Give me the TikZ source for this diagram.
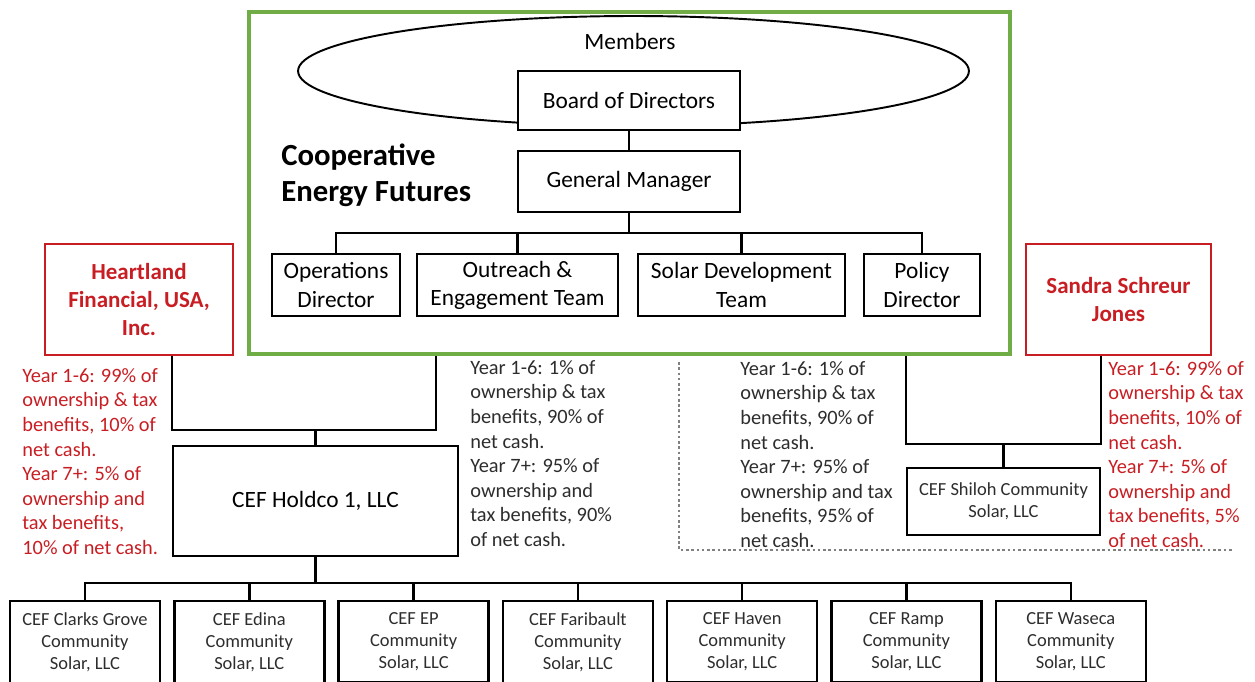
\documentclass[tikz,border=0pt]{standalone}
\usepackage{fontspec}
\setmainfont{Carlito}
\usepackage{tikz}
\usetikzlibrary{shapes.geometric,calc}

\definecolor{coopgreen}{RGB}{112,173,71}
\definecolor{partnerred}{RGB}{200,30,35}
\definecolor{notegray}{RGB}{45,45,45}
\newcommand{\boxfont}{\fontsize{13.3}{16}\selectfont}
\newcommand{\notefont}{\fontsize{11.6}{14}\selectfont}
\newcommand{\sitefont}{\fontsize{10.5}{12.5}\selectfont}

\tikzset{
	unit/.style={draw, line width=1.4pt, fill=white, align=center, inner sep=0pt, font=\boxfont},
	partner/.style={draw=partnerred, line width=1.2pt, align=center, inner sep=0pt, text=partnerred, font=\fontsize{13.1}{15.9}\selectfont\bfseries},
	site/.style={draw, line width=1.4pt, align=center, anchor=north, minimum width=3cm, inner xsep=0pt, inner ysep=6.5pt, text=notegray, font=\sitefont},
	note/.style={anchor=north west, align=left, inner sep=0pt, font=\notefont},
	link/.style={line width=1.4pt}
}

\begin{document}
\begin{tikzpicture}[x=0.02cm,y=-0.02cm]
\useasboundingbox (0,0) rectangle (1255,682);
\clip (0,0) rectangle (1255,682);
%cooperative
\node[draw=coopgreen, line width=2.3pt, minimum width=15.22cm, minimum height=6.84cm, inner sep=0pt] (coop) at (629.5,183) {};
\node[draw, ellipse, line width=1.1pt, minimum width=13.42cm, minimum height=2.2cm, inner sep=0pt] (members) at (633.5,71) {};
\node[font=\boxfont] (memberslabel) at (630,41) {Members};
\node[unit, minimum width=4.44cm, minimum height=1.18cm] (board) at (629,100.5) {Board of Directors};
\node[unit, minimum width=4.44cm, minimum height=1.22cm] (manager) at (629,181.5) {General Manager};
\node[anchor=north west, align=left, inner sep=0pt, font=\fontsize{17.5}{20.4}\selectfont\bfseries] (cooptitle) at (281,144) {Cooperative\\Energy Futures};
\draw[link] (board) -- (manager);
%teams
\node[unit, minimum width=2.56cm, minimum height=1.24cm] (ops) at (336,285) {Operations\\Director};
\node[unit, minimum width=4.02cm, minimum height=1.24cm] (outreach) at (517.5,285) {Outreach \&\\Engagement Team};
\node[unit, minimum width=4.14cm, minimum height=1.24cm] (solar) at (741.5,285) {Solar Development\\Team};
\node[unit, minimum width=2.32cm, minimum height=1.24cm] (policy) at (922,285) {Policy\\Director};
\coordinate (teambus) at (629,233);
\draw[link] (manager) -- (teambus);
\draw[link] (ops.north) |- (teambus) -| (policy.north);
\draw[link] (outreach.north) -- (outreach.north |- teambus);
\draw[link] (solar.north) -- (solar.north |- teambus);
%investors
\node[partner, minimum width=3.76cm, minimum height=2.22cm] (heartland) at (139,299.5) {Heartland\\Financial, USA,\\Inc.};
\node[partner, minimum width=3.70cm, minimum height=2.22cm] (sandra) at (1118.5,299.5) {Sandra Schreur\\Jones};
%holdco
\node[unit, minimum width=5.70cm, minimum height=2.20cm] (holdco) at (315.5,501) {CEF Holdco 1, LLC};
\coordinate (hbus) at (315.5,430);
\draw[link] (holdco.west |- heartland.south) |- (hbus) -| ([xshift=-3.87cm]coop.south);
\draw[link] (hbus) -- (holdco);
%shiloh
\node[unit, minimum width=3.86cm, minimum height=1.34cm, font=\sitefont, text=notegray] (shiloh) at (1003.5,501.5) {CEF Shiloh Community\\Solar, LLC};
\coordinate (sbus) at (1003.5,444);
\draw[link] (shiloh.west |- coop.south) |- (sbus) -| (shiloh.east |- sandra.south);
\draw[link] (sbus) -- (shiloh);
%shares
\node[note, text=partnerred] (heartlandnote) at (22,368) {Year 1-6: 99\% of\\ownership \& tax\\benefits, 10\% of\\net cash.\\Year 7+: 5\% of\\ownership and\\tax benefits,\\10\% of net cash.};
\node[note, text=notegray] (coopnote) at (470,360) {Year 1-6: 1\% of\\ownership \& tax\\benefits, 90\% of\\net cash.\\Year 7+: 95\% of\\ownership and\\tax benefits, 90\%\\of net cash.};
\node[note, text=notegray] (shilohnote) at (740,361) {Year 1-6: 1\% of\\ownership \& tax\\benefits, 90\% of\\net cash.\\Year 7+: 95\% of\\ownership and tax\\benefits, 95\% of\\net cash.};
\node[note, text=partnerred] (sandranote) at (1108,361) {Year 1-6: 99\% of\\ownership \& tax\\benefits, 10\% of\\net cash.\\Year 7+: 5\% of\\ownership and\\tax benefits, 5\%\\of net cash.};
\draw[gray, line width=0.6pt, dash pattern=on 1.5pt off 1.5pt] (679,362) |- (1232,550);
%sites
\coordinate (sitebus) at (315.5,583);
\draw[link] (holdco) -- (sitebus);
\foreach \name/\town [count=\i from 0] in {clarks/Clarks Grove, edina/Edina, ep/EP, faribault/Faribault, haven/Haven, ramp/Ramp, waseca/Waseca}
{
	\node[site] (\name) at ({85+164.3*\i},600) {CEF \town\\Community\\Solar, LLC};
	\draw[link] (sitebus) -| (\name.north);
}
\end{tikzpicture}
\end{document}
